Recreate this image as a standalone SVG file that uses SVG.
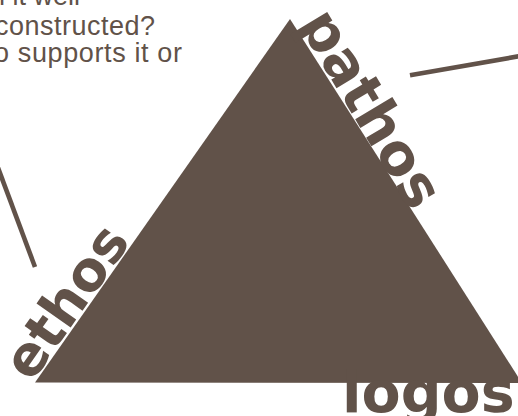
<svg xmlns="http://www.w3.org/2000/svg" width="518" height="416" viewBox="0 0 518 416">
<style>
.ink{fill:#615249}
.big{font-family:"DejaVu Sans",sans-serif;font-weight:bold;fill:#615249}
.body{font-family:"Liberation Sans",Arial,sans-serif;font-size:27px;fill:#615249}
.conn{stroke:#615249;stroke-width:4.6;fill:none;stroke-linecap:butt}
</style>
<rect width="518" height="416" fill="#ffffff"/>
<g id="question-text">
<text class="body" x="-10" y="5">n it well</text>
<text class="body" x="-5" y="35" textLength="160" lengthAdjust="spacing">constructed?</text>
<text class="body" x="-6" y="62" textLength="188" lengthAdjust="spacing">o supports it or</text>
</g>
<g id="connectors">
<line class="conn" x1="410" y1="75.3" x2="525" y2="55.2"/>
<line class="conn" x1="-3" y1="165" x2="35" y2="267"/>
</g>
<g id="triangle">
<polygon class="ink" points="290,19 35,382.5 522,383"/>
</g>
<g id="pathos">
<text class="big" font-size="57" transform="translate(298,24) rotate(59)">pathos</text>
</g>
<g id="ethos">
<text class="big" font-size="55" transform="translate(31.4,383.2) rotate(-54.8)">ethos</text>
</g>
<g id="logos">
<text class="big" font-size="57" x="342" y="412">logos</text>
</g>
</svg>
